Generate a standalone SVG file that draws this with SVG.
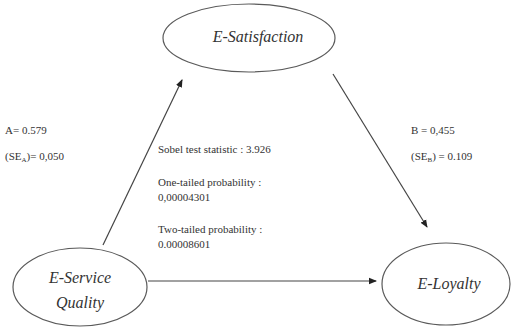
<svg xmlns="http://www.w3.org/2000/svg" width="515" height="328" viewBox="0 0 515 328">
  <style>
    .node { fill: #ffffff; stroke: #5a5a5a; stroke-width: 1.2; }
    .lbl { font-family: "Liberation Serif", "DejaVu Serif", "Times New Roman", serif; font-style: italic; font-size: 16px; fill: #333333; text-anchor: middle; }
    .stat { font-family: "Liberation Serif", "DejaVu Serif", "Times New Roman", serif; font-size: 11px; fill: #333333; }
    .edge { stroke: #444444; stroke-width: 1.2; fill: none; marker-end: url(#arrow); }
  </style>
  <defs>
    <marker id="arrow" markerWidth="8" markerHeight="8" refX="7" refY="4" orient="auto" markerUnits="userSpaceOnUse">
      <path d="M0,0.8 L8,4 L0,7.2 Z" fill="#222222"/>
    </marker>
  </defs>
  <rect width="515" height="328" fill="#ffffff"/>

  <g id="connectors">
    <line class="edge" x1="103" y1="245" x2="182" y2="80"/>
    <line class="edge" x1="333" y1="74" x2="427" y2="227"/>
    <line class="edge" x1="148" y1="281" x2="376" y2="281"/>
  </g>

  <g id="e-satisfaction">
    <ellipse class="node" cx="249" cy="38" rx="86" ry="34"/>
    <text class="lbl" x="258" y="42">E-Satisfaction</text>
  </g>

  <g id="e-service-quality">
    <ellipse class="node" cx="80" cy="287" rx="67" ry="39"/>
    <text class="lbl" x="80" y="283">E-Service</text>
    <text class="lbl" x="80" y="308">Quality</text>
  </g>

  <g id="e-loyalty">
    <ellipse class="node" cx="446" cy="284" rx="64" ry="41"/>
    <text class="lbl" x="449" y="289">E-Loyalty</text>
  </g>

  <g id="path-a">
    <text class="stat" x="5" y="134">A= 0.579</text>
    <text class="stat" x="5" y="160">(SE<tspan font-size="7" dy="2">A</tspan><tspan dy="-2">)= 0,050</tspan></text>
  </g>

  <g id="path-b">
    <text class="stat" x="411" y="134">B = 0,455</text>
    <text class="stat" x="411" y="160">(SE<tspan font-size="7" dy="2">B</tspan><tspan dy="-2">) = 0.109</tspan></text>
  </g>

  <g id="sobel">
    <text class="stat" x="158" y="153">Sobel test statistic : 3.926</text>
    <text class="stat" x="158" y="186">One-tailed probability :</text>
    <text class="stat" x="158" y="201">0,00004301</text>
    <text class="stat" x="158" y="233">Two-tailed probability :</text>
    <text class="stat" x="158" y="248">0.00008601</text>
  </g>
</svg>
